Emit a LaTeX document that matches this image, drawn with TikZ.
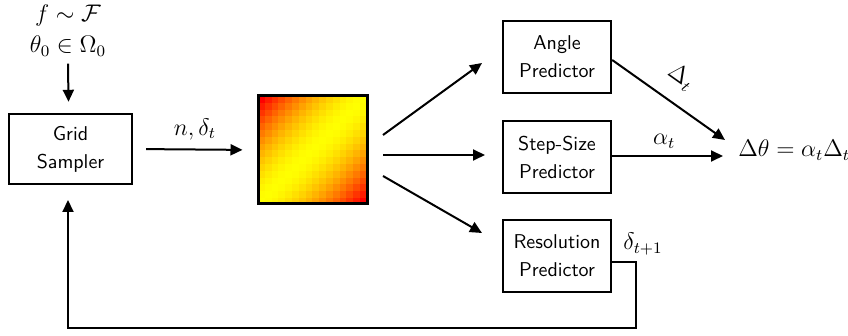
\documentclass[tikz,border=0pt]{standalone}
\usepackage{amsmath}
\usetikzlibrary{arrows.meta,calc}
\begin{document}
\begin{tikzpicture}[x=0.5pt,y=-0.5pt,
  box/.style={draw,line width=1.2pt,align=center,font=\sffamily,inner sep=0pt},
  arr/.style={line width=1pt,-{Triangle[length=6pt,width=5.5pt]}},
  lab/.style={font=\large}]
\useasboundingbox (0,0) rectangle (848,336);

% inputs and grid sampler
\node[lab,inner sep=0pt] (fdist) at (68,16) {$f\sim\mathcal{F}$};
\node[lab,inner sep=0pt] (inp) at (68,46) {$\theta_0\in\Omega_0$};
\node[box,minimum width=61.5pt,minimum height=35pt] (grid) at (70.5,149) {Grid\\[2pt]Sampler};

% sampled grid (heat map)
\foreach \i in {0,...,15}{
  \foreach \j in {0,...,15}{
    \pgfmathsetmacro\g{1-(abs(\i+\j-15)/15)^1.6}
    \definecolor{cell}{rgb}{1,\g,0}
    \fill[cell] (258+\i*6.8,96+\j*6.8) rectangle ++(6.9,6.9);
  }
}
\node[draw,line width=1.5pt,minimum width=54.5pt,minimum height=54pt,inner sep=0pt] (map) at (312.5,150) {};

% predictors
\node[box,minimum width=54pt,minimum height=36pt] (ang) at (557,57) {Angle\\[2pt]Predictor};
\node[box,minimum width=54pt,minimum height=36pt] (step) at (557,157) {Step-Size\\[2pt]Predictor};
\node[box,minimum width=54pt,minimum height=36pt] (res) at (557,256) {Resolution\\[2pt]Predictor};

% update
\node[lab,anchor=west,inner sep=0pt] (upd) at (738,150) {$\Delta\theta=\alpha_t\Delta_t$};

% connector end points
\coordinate (m1) at (383,135);
\coordinate (m2) at (383,155);
\coordinate (m3) at (383,176);
\coordinate (a1) at (482,63);
\coordinate (a2) at (485,155);
\coordinate (a3) at (482,233);
\coordinate (u1) at (725,140);
\coordinate (u2) at (723,156);
\coordinate (fb1) at (636,262);
\coordinate (fb2) at (636,328);
\coordinate (fb3) at (68,328);
\coordinate (fb4) at (68,200);

\draw[arr] ([yshift=-3.5pt]inp.south) -- ([xshift=-1pt,yshift=5.5pt]grid.north);
\draw[arr,shorten <=6.5pt,shorten >=7pt] (grid.east) -- node[lab,above=1pt]{$n,\delta_t$} (map.west);
\draw[arr] (m1) -- (a1);
\draw[arr] (m2) -- (a2);
\draw[arr] (m3) -- (a3);
\draw[arr] ([yshift=-1.5pt]ang.east) -- node[lab,sloped,above=4pt,pos=0.48]{$\Delta_t$} (u1);
\draw[arr] ([yshift=0.5pt]step.east) -- node[lab,above,pos=0.47]{$\alpha_t$} (u2);
\draw[arr] ([yshift=-3pt]res.east) -- (fb1) -- (fb2) -- (fb3) -- (fb4);
\node[lab,anchor=base west,inner sep=0pt] (dnext) at (623,250) {$\delta_{t+1}$};
\end{tikzpicture}
\end{document}
